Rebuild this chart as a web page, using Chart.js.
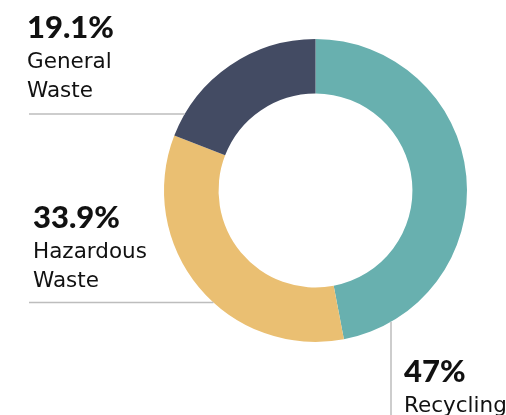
<!DOCTYPE html>
<html>
<head>
<meta charset="utf-8">
<script src="https://cdn.jsdelivr.net/npm/chart.js@4"></script>
<style>
  html, body { margin: 0; padding: 0; background: #fff; }
  #wrap { width: 506px; height: 415px; position: relative; }
</style>
</head>
<body>
<div id="wrap"><canvas id="chart" width="506" height="415"></canvas></div>
<script>
// Waste breakdown, share of total (%)
const categories = [["Recycling"], ["Hazardous", "Waste"], ["General", "Waste"]];
const shares = [47, 33.9, 19.1];
const colors = ["#68b0af", "#eabf72", "#434b63"];

const PCT_FONT = "Lato, 'Open Sans', sans-serif";
const NAME_FONT = "'DejaVu Sans', 'Open Sans', sans-serif";
const RULE = "#bdbdbd";

// where each callout sits; side says which way its rule runs into the ring
const callouts = [
  { x: 404, y: 382, side: "down", at: 391 },
  { x: 33, y: 228, side: "left", at: 302.5 },
  { x: 27, y: 38, side: "left", at: 114 },
];

const calloutPlugin = {
  id: "callouts",
  afterDraw(chart) {
    const ctx = chart.ctx;
    const arc = chart.getDatasetMeta(0).data[0];
    const cx = arc.x, cy = arc.y, r = arc.outerRadius;
    ctx.save();
    ctx.strokeStyle = RULE;
    ctx.lineWidth = 1.5;
    callouts.forEach((c, i) => {
      // leader rule, ending on the outer edge of the ring
      ctx.beginPath();
      if (c.side === "left") {
        const dy = c.at - cy;
        const xEnd = cx - Math.sqrt(r * r - dy * dy);
        ctx.moveTo(29, c.at);
        ctx.lineTo(xEnd, c.at);
      } else {
        const dx = c.at - cx;
        const yEnd = cy + Math.sqrt(r * r - dx * dx);
        ctx.moveTo(c.at, yEnd);
        ctx.lineTo(c.at, 415);
      }
      ctx.stroke();

      ctx.fillStyle = "#111";
      ctx.textAlign = "left";
      ctx.textBaseline = "alphabetic";
      ctx.font = "900 31px " + PCT_FONT;
      ctx.fillText(chart.data.datasets[0].data[i] + "%", c.x, c.y);
      ctx.font = "21.5px " + NAME_FONT;
      categories[i].forEach((line, j) => ctx.fillText(line, c.x, c.y + 30 + j * 28.5));
    });
    ctx.restore();
  },
};

new Chart(document.getElementById("chart"), {
  type: "doughnut",
  data: {
    labels: categories.map((l) => l.join(" ")),
    datasets: [{ data: shares, backgroundColor: colors, borderWidth: 0, hoverOffset: 0 }],
  },
  options: {
    responsive: false,
    animation: false,
    cutout: "64%",
    layout: { padding: { left: 164, right: 39, top: 39, bottom: 73 } },
    plugins: { legend: { display: false }, tooltip: { enabled: false } },
  },
  plugins: [calloutPlugin],
});
</script>
</body>
</html>
